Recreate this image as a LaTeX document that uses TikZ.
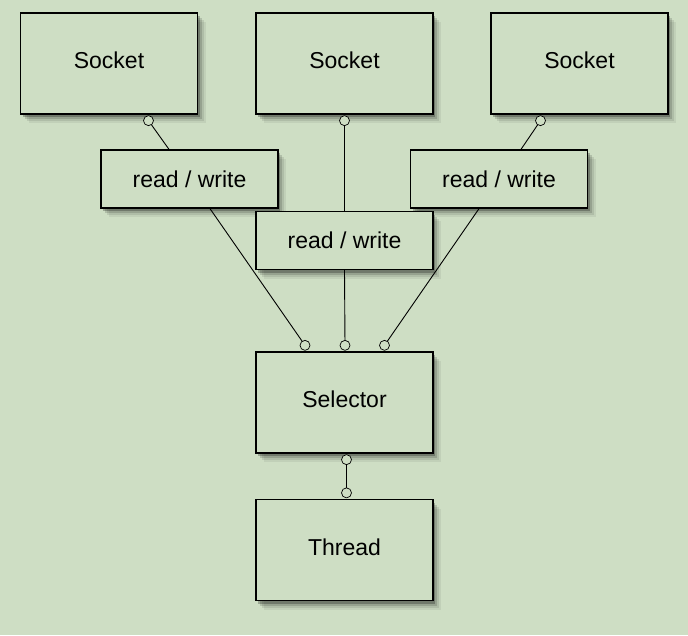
\documentclass[tikz,border=0pt]{standalone}
\usepackage{fontspec}
\setmainfont{Liberation Sans}
\usepackage{tikz}
\usetikzlibrary{shadows}
\definecolor{nioback}{RGB}{206, 222, 196}

\begin{document}
\begin{tikzpicture}[x=1pt, y=-1pt,
    box/.style={draw=black, line width=1.3pt, fill=nioback, minimum width=177pt,
        font=\fontsize{23}{27}\selectfont,
        drop shadow={shadow xshift=8pt, shadow yshift=-9pt, opacity=0.06, fill=black},
        drop shadow={shadow xshift=6pt, shadow yshift=-7pt, opacity=0.09, fill=black},
        drop shadow={shadow xshift=4pt, shadow yshift=-5pt, opacity=0.14, fill=black},
        drop shadow={shadow xshift=2pt, shadow yshift=-3pt, opacity=0.25, fill=black}},
    bigbox/.style={box, minimum height=101pt, text height=17pt, text depth=6.5pt},
    rwbox/.style={box, minimum height=58pt},
    port/.style={circle, draw=black, line width=0.7pt, fill=nioback, minimum size=10pt, inner sep=0pt},
    wire/.style={draw=black, line width=0.9pt}]
    % Background
    \fill[nioback] (0,0) rectangle (688,635);

    % Sockets
    \node[bigbox] (sock1) at (109, 63.5) {Socket};
    \node[bigbox] (sock2) at (344.5, 63.5) {Socket};
    \node[bigbox] (sock3) at (579.5, 63.5) {Socket};

    % Read / write channels
    \node[rwbox] (rw1) at (189.5, 179) {read / write};
    \node[rwbox] (rw3) at (499, 179) {read / write};
    \node[rwbox] (rw2) at (344.5, 240.5) {read / write};

    % Selector and thread
    \node[bigbox] (sel) at (344.5, 402.5) {Selector};
    \node[bigbox] (thr) at (344.5, 550) {Thread};

    % Ports
    \node[port] (pS1) at ([xshift=39.5pt, yshift=-6pt]sock1.south) {};
    \node[port] (pS2) at ([yshift=-6pt]sock2.south) {};
    \node[port] (pS3) at ([xshift=-39pt, yshift=-6pt]sock3.south) {};
    \node[port] (pSel1) at ([xshift=-39.5pt, yshift=6pt]sel.north) {};
    \node[port] (pSel2) at ([xshift=0.5pt, yshift=6pt]sel.north) {};
    \node[port] (pSel3) at ([xshift=40pt, yshift=6pt]sel.north) {};
    \node[port] (pSelB) at ([xshift=2pt, yshift=-6pt]sel.south) {};
    \node[port] (pThr) at ([xshift=2pt, yshift=6pt]thr.north) {};

    % Wires
    \draw[wire] (pS1) -- ([xshift=-20.5pt]rw1.north);
    \draw[wire] (pS2) -- (rw2.north);
    \draw[wire] (pS3) -- ([xshift=22pt]rw3.north);
    \draw[wire] ([xshift=20.5pt]rw1.south) -- (pSel1);
    \draw[wire] (rw2.south) -- (pSel2);
    \draw[wire] ([xshift=-20pt]rw3.south) -- (pSel3);
    \draw[wire] (pSelB) -- (pThr);
\end{tikzpicture}
\end{document}
